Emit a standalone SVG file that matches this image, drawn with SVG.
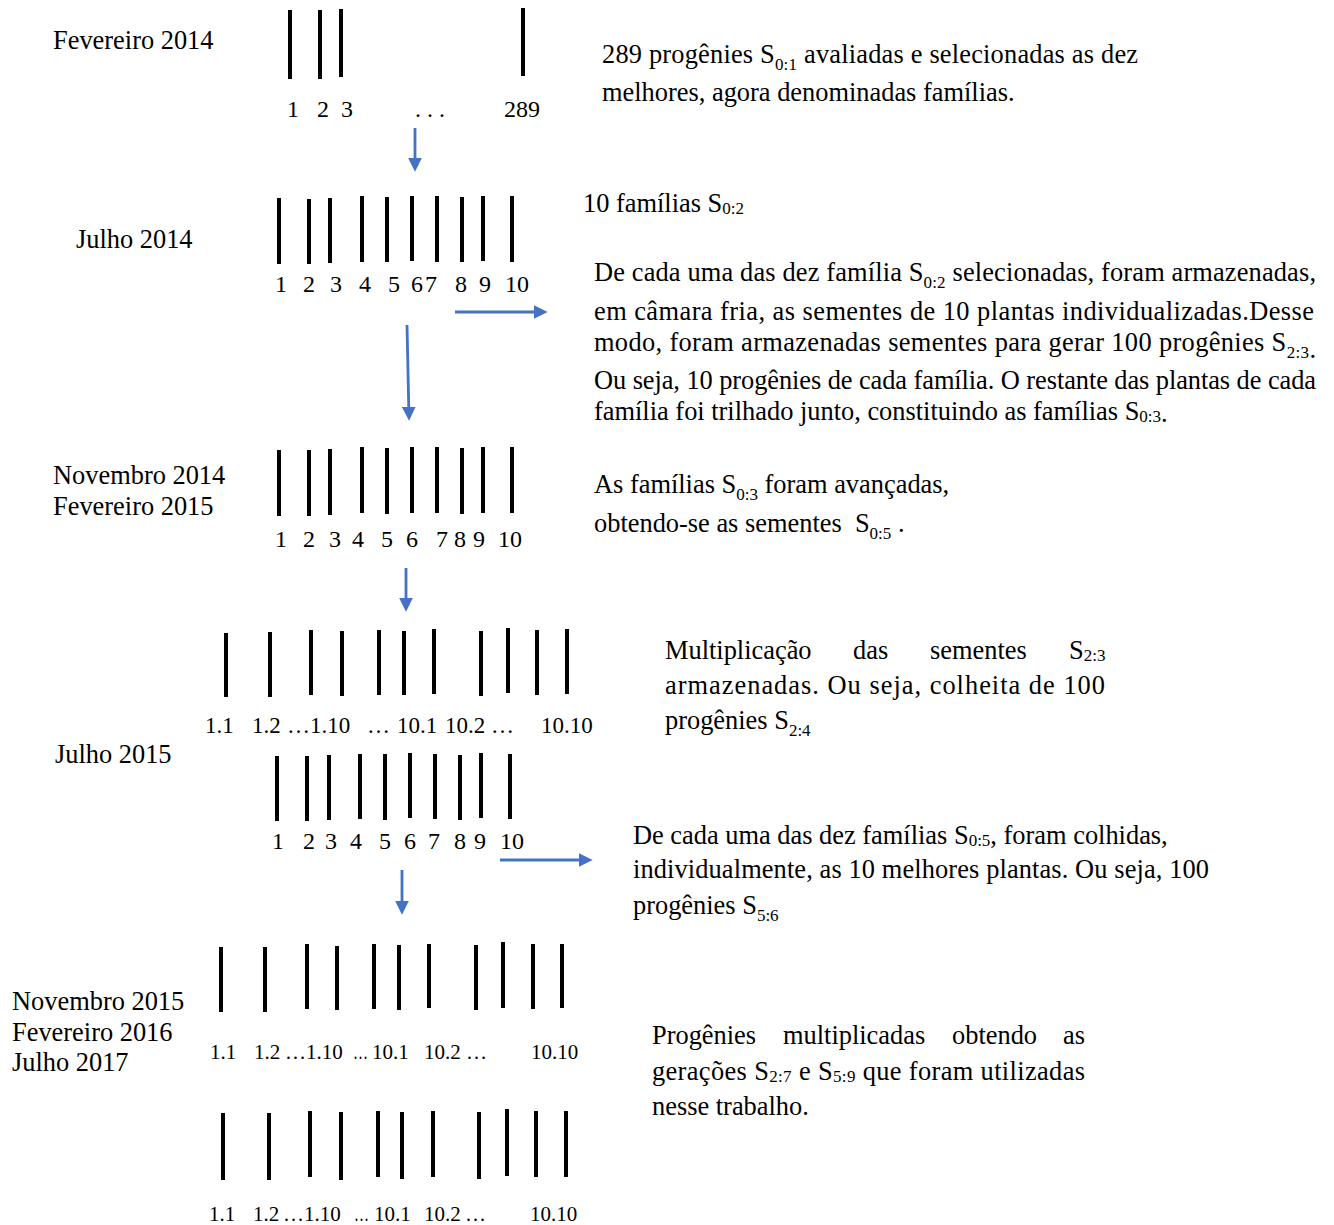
<svg xmlns="http://www.w3.org/2000/svg" width="1334" height="1225" viewBox="0 0 1334 1225">
<style>
text{font-family:"Liberation Serif","Times New Roman",serif;fill:#000}
.t{font-size:26.4px}
.n{font-size:24px;text-anchor:middle}
.m{font-size:23px}
.s{font-size:21px}
.sub{font-size:17px}
.b{stroke:#000;stroke-width:4;fill:none}
.a{stroke:#4472C4;stroke-width:2.8;fill:none;marker-end:url(#ah)}
</style>
<defs>
<marker id="ah" markerUnits="userSpaceOnUse" markerWidth="14" markerHeight="14" refX="2" refY="6" orient="auto" viewBox="0 0 12 12">
<path d="M0,0 L12,6 L0,12 z" fill="#4472C4"/>
</marker>
</defs>
<rect width="1334" height="1225" fill="#fff"/>

<g id="row1">
<text class="t" x="53" y="49">Fevereiro 2014</text>
<line class="b" x1="290" y1="10" x2="290" y2="79"/>
<line class="b" x1="320" y1="10" x2="320" y2="79"/>
<line class="b" x1="341" y1="9" x2="341" y2="77"/>
<line class="b" x1="523" y1="8" x2="523" y2="76"/>
<text class="n" x="293" y="117">1</text>
<text class="n" x="323" y="117">2</text>
<text class="n" x="347" y="117">3</text>
<text class="n" x="430" y="117">. . .</text>
<text class="n" x="522" y="117">289</text>
<text class="t" x="602" y="63" textLength="536" lengthAdjust="spacing">289 progênies S<tspan class="sub" dy="7">0:1</tspan><tspan dy="-7">  avaliadas e selecionadas as dez</tspan></text>
<text class="t" x="602" y="101">melhores, agora denominadas famílias.</text>
</g>

<g id="row2">
<text class="t" x="76" y="248">Julho 2014</text>
<line class="b" x1="279" y1="198" x2="279" y2="264"/>
<line class="b" x1="309" y1="199" x2="309" y2="264"/>
<line class="b" x1="330" y1="198" x2="330" y2="263"/>
<line class="b" x1="362" y1="196" x2="362" y2="262"/>
<line class="b" x1="387" y1="197" x2="387" y2="262"/>
<line class="b" x1="412" y1="196" x2="412" y2="261"/>
<line class="b" x1="437" y1="196" x2="437" y2="262"/>
<line class="b" x1="462" y1="197" x2="462" y2="262"/>
<line class="b" x1="483" y1="196" x2="483" y2="261"/>
<line class="b" x1="512" y1="196" x2="512" y2="262"/>
<text class="n" x="281" y="292">1</text>
<text class="n" x="309" y="292">2</text>
<text class="n" x="336" y="292">3</text>
<text class="n" x="365" y="292">4</text>
<text class="n" x="394" y="292">5</text>
<text class="n" x="417" y="292">6</text>
<text class="n" x="431" y="292">7</text>
<text class="n" x="461" y="292">8</text>
<text class="n" x="485" y="292">9</text>
<text class="n" x="517" y="292">10</text>
<text class="t" x="583" y="212">10 famílias S<tspan class="sub" dy="2">0:2</tspan></text>
<text class="t" x="594" y="281" textLength="722" lengthAdjust="spacing">De cada uma das dez família S<tspan class="sub" dy="7">0:2</tspan><tspan dy="-7"> selecionadas, foram armazenadas,</tspan></text>
<text class="t" x="594" y="320" textLength="720" lengthAdjust="spacing">em câmara fria, as sementes de 10 plantas individualizadas.Desse</text>
<text class="t" x="594" y="351" textLength="722" lengthAdjust="spacing">modo, foram armazenadas sementes para gerar 100 progênies S<tspan class="sub" dy="7">2:3</tspan>.</text>
<text class="t" x="594" y="389" textLength="722" lengthAdjust="spacing">Ou seja, 10 progênies de cada família. O restante das plantas de cada</text>
<text class="t" x="594" y="420">família foi trilhado junto, constituindo as famílias S<tspan class="sub" dy="2">0:3</tspan>.</text>
</g>

<g id="row3">
<text class="t" x="53" y="484">Novembro 2014</text>
<text class="t" x="53" y="515">Fevereiro 2015</text>
<line class="b" x1="279" y1="450" x2="279" y2="516"/>
<line class="b" x1="309" y1="450" x2="309" y2="516"/>
<line class="b" x1="330" y1="449" x2="330" y2="515"/>
<line class="b" x1="362" y1="447" x2="362" y2="513"/>
<line class="b" x1="387" y1="448" x2="387" y2="514"/>
<line class="b" x1="412" y1="447" x2="412" y2="513"/>
<line class="b" x1="437" y1="447" x2="437" y2="513"/>
<line class="b" x1="462" y1="448" x2="462" y2="514"/>
<line class="b" x1="483" y1="447" x2="483" y2="513"/>
<line class="b" x1="512" y1="447" x2="512" y2="513"/>
<text class="n" x="281" y="547">1</text>
<text class="n" x="309" y="547">2</text>
<text class="n" x="335" y="547">3</text>
<text class="n" x="358" y="547">4</text>
<text class="n" x="387" y="547">5</text>
<text class="n" x="412" y="547">6</text>
<text class="n" x="442" y="547">7</text>
<text class="n" x="460" y="547">8</text>
<text class="n" x="479" y="547">9</text>
<text class="n" x="510" y="547">10</text>
<text class="t" x="594" y="493">As famílias S<tspan class="sub" dy="7">0:3</tspan><tspan dy="-7"> foram avançadas,</tspan></text>
<text class="t" x="594" y="532">obtendo-se as sementes&#160; S<tspan class="sub" dy="7">0:5</tspan><tspan dy="-7"> .</tspan></text>
</g>

<g id="row4">
<text class="t" x="55" y="763">Julho 2015</text>
<line class="b" x1="226" y1="633" x2="226" y2="697"/>
<line class="b" x1="270" y1="632" x2="270" y2="697"/>
<line class="b" x1="311" y1="630" x2="311" y2="695"/>
<line class="b" x1="342" y1="631" x2="342" y2="696"/>
<line class="b" x1="379" y1="630" x2="379" y2="695"/>
<line class="b" x1="404" y1="631" x2="404" y2="695"/>
<line class="b" x1="434" y1="629" x2="434" y2="694"/>
<line class="b" x1="481" y1="631" x2="481" y2="696"/>
<line class="b" x1="508" y1="628" x2="508" y2="693"/>
<line class="b" x1="537" y1="630" x2="537" y2="695"/>
<line class="b" x1="567" y1="629" x2="567" y2="694"/>
<text class="m" x="205" y="733">1.1</text>
<text class="m" x="252" y="733">1.2</text>
<text class="m" x="287" y="733">…1.10</text>
<text class="m" x="367" y="733">…</text>
<text class="m" x="397" y="733">10.1</text>
<text class="m" x="445" y="733">10.2</text>
<text class="m" x="491" y="733">…</text>
<text class="m" x="541" y="733">10.10</text>
<text class="t" x="665" y="659">Multiplicação</text>
<text class="t" x="853" y="659">das</text>
<text class="t" x="930" y="659">sementes</text>
<text class="t" x="1069" y="659">S<tspan class="sub" dy="2">2:3</tspan></text>
<text class="t" x="665" y="694" textLength="440" lengthAdjust="spacing">armazenadas. Ou seja, colheita de 100</text>
<text class="t" x="665" y="729">progênies S<tspan class="sub" dy="7">2:4</tspan></text>
</g>

<g id="row5">
<line class="b" x1="277" y1="756" x2="277" y2="821"/>
<line class="b" x1="307" y1="756" x2="307" y2="821"/>
<line class="b" x1="329" y1="755" x2="329" y2="820"/>
<line class="b" x1="360" y1="754" x2="360" y2="819"/>
<line class="b" x1="385" y1="754" x2="385" y2="820"/>
<line class="b" x1="410" y1="753" x2="410" y2="818"/>
<line class="b" x1="435" y1="754" x2="435" y2="819"/>
<line class="b" x1="460" y1="755" x2="460" y2="820"/>
<line class="b" x1="481" y1="753" x2="481" y2="818"/>
<line class="b" x1="510" y1="754" x2="510" y2="819"/>
<text class="n" x="278" y="849">1</text>
<text class="n" x="309" y="849">2</text>
<text class="n" x="331" y="849">3</text>
<text class="n" x="356" y="849">4</text>
<text class="n" x="385" y="849">5</text>
<text class="n" x="410" y="849">6</text>
<text class="n" x="434" y="849">7</text>
<text class="n" x="460" y="849">8</text>
<text class="n" x="480" y="849">9</text>
<text class="n" x="512" y="849">10</text>
<text class="t" x="633" y="844">De cada uma das dez famílias S<tspan class="sub" dy="2">0:5</tspan><tspan dy="-2">, foram colhidas,</tspan></text>
<text class="t" x="633" y="878" textLength="576" lengthAdjust="spacing">individualmente, as 10 melhores plantas. Ou seja, 100</text>
<text class="t" x="633" y="914">progênies S<tspan class="sub" dy="7">5:6</tspan></text>
</g>

<g id="row6">
<text class="t" x="12" y="1010">Novembro 2015</text>
<text class="t" x="12" y="1041">Fevereiro 2016</text>
<text class="t" x="12" y="1071">Julho 2017</text>
<line class="b" x1="221" y1="947" x2="221" y2="1012"/>
<line class="b" x1="265" y1="947" x2="265" y2="1012"/>
<line class="b" x1="307" y1="944" x2="307" y2="1009"/>
<line class="b" x1="337" y1="946" x2="337" y2="1010"/>
<line class="b" x1="374" y1="944" x2="374" y2="1009"/>
<line class="b" x1="399" y1="945" x2="399" y2="1010"/>
<line class="b" x1="429" y1="944" x2="429" y2="1008"/>
<line class="b" x1="476" y1="945" x2="476" y2="1010"/>
<line class="b" x1="503" y1="942" x2="503" y2="1008"/>
<line class="b" x1="533" y1="944" x2="533" y2="1009"/>
<line class="b" x1="562" y1="944" x2="562" y2="1008"/>
<text class="s" x="210" y="1059">1.1</text>
<text class="s" x="254" y="1059">1.2</text>
<text class="s" x="285" y="1059">…1.10</text>
<text class="s" x="353" y="1059" textLength="15" lengthAdjust="spacingAndGlyphs">…</text>
<text class="s" x="372" y="1059">10.1</text>
<text class="s" x="424" y="1059">10.2</text>
<text class="s" x="466" y="1059">…</text>
<text class="s" x="531" y="1059">10.10</text>
<text class="t" x="652" y="1044">Progênies</text>
<text class="t" x="783" y="1044">multiplicadas</text>
<text class="t" x="952" y="1044">obtendo</text>
<text class="t" x="1063" y="1044">as</text>
<text class="t" x="652" y="1080" textLength="433" lengthAdjust="spacing">gerações S<tspan class="sub" dy="2">2:7</tspan><tspan dy="-2"> e S</tspan><tspan class="sub" dy="2">5:9</tspan><tspan dy="-2"> que foram utilizadas</tspan></text>
<text class="t" x="652" y="1115">nesse trabalho.</text>
</g>

<g id="row7">
<line class="b" x1="223" y1="1113" x2="223" y2="1180"/>
<line class="b" x1="269" y1="1113" x2="269" y2="1180"/>
<line class="b" x1="310" y1="1111" x2="310" y2="1177"/>
<line class="b" x1="341" y1="1112" x2="341" y2="1180"/>
<line class="b" x1="378" y1="1111" x2="378" y2="1177"/>
<line class="b" x1="402" y1="1112" x2="402" y2="1179"/>
<line class="b" x1="433" y1="1111" x2="433" y2="1177"/>
<line class="b" x1="479" y1="1112" x2="479" y2="1179"/>
<line class="b" x1="507" y1="1109" x2="507" y2="1176"/>
<line class="b" x1="536" y1="1111" x2="536" y2="1177"/>
<line class="b" x1="566" y1="1111" x2="566" y2="1177"/>
<text class="s" x="209" y="1221">1.1</text>
<text class="s" x="253" y="1221">1.2</text>
<text class="s" x="283" y="1221">…1.10</text>
<text class="s" x="354" y="1221" textLength="15" lengthAdjust="spacingAndGlyphs">…</text>
<text class="s" x="374" y="1221">10.1</text>
<text class="s" x="424" y="1221">10.2</text>
<text class="s" x="465" y="1221">…</text>
<text class="s" x="530" y="1221">10.10</text>
</g>

<g id="connectors">
<line class="a" x1="415" y1="128" x2="415" y2="160"/>
<line class="a" x1="407" y1="325" x2="408.8" y2="409"/>
<line class="a" x1="455" y1="312" x2="536" y2="312"/>
<line class="a" x1="406" y1="568" x2="406" y2="600"/>
<line class="a" x1="500" y1="860" x2="581" y2="860"/>
<line class="a" x1="402" y1="870" x2="402" y2="903"/>
</g>
</svg>
